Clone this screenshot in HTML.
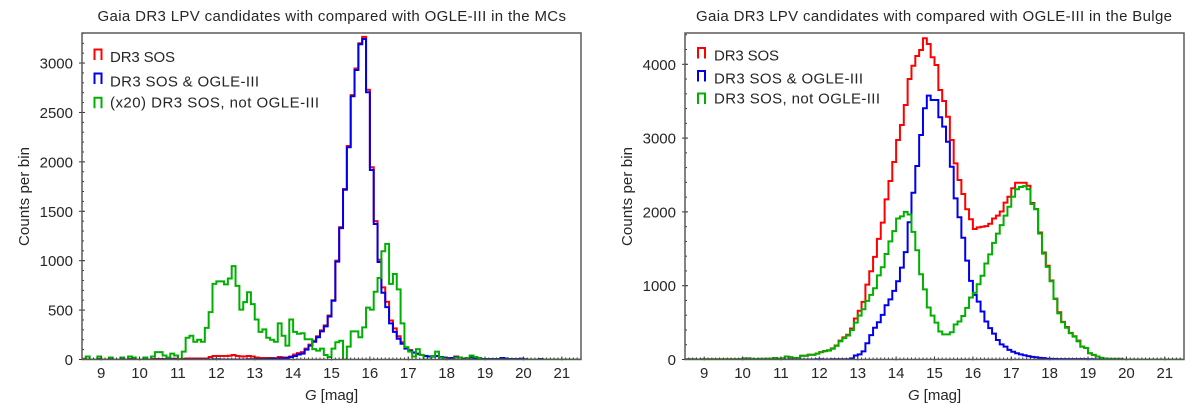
<!DOCTYPE html>
<html lang="en">
<head>
<meta charset="utf-8">
<title>Gaia DR3 LPV candidates compared with OGLE-III</title>
<style>
html,body{margin:0;padding:0;background:#fff;width:1200px;height:409px;overflow:hidden}
svg{display:block}
text{font-family:"Liberation Sans",sans-serif;fill:#262626}
</style>
</head>
<body>
<svg id="figure" width="1200" height="409" viewBox="0 0 1200 409" xmlns="http://www.w3.org/2000/svg"></svg>
<script>
// Histogram bins start at G = 8.5 mag with a width of 0.1 mag; omitted trailing bins are zero.
const binStart = 8.5;
const binWidth = 0.1;
const xTickLabels = [9,10,11,12,13,14,15,16,17,18,19,20,21];

const mcYTicks = [0,500,1000,1500,2000,2500,3000];
const bulgeYTicks = [0,1000,2000,3000,4000];

const mcRed = [8,0,0,0,5,0,0,5,0,0,5,0,5,3,0,0,5,0,5,5,5,5,5,8,8,
  5,8,10,10,10,10,10,10,25,35,
  35,35,35,38,45,35,32,32,35,30,
  20,15,15,15,15,12,25,20,20,30,
  50,65,75,110,150,190,235,295,345,445,
  600,1000,1340,1725,2160,2675,2945,3200,3265,2730,
  1945,1400,1010,730,585,395,315,235,175,120,
  95,72,60,47,37,30,30,35,25,20,
  12,15,30,20,8,15,20,15,10,5,
  5,5,5,5,15,10,5,5,5,8,
  3,0,0,0,5];
const mcBlue = [0,0,0,0,0,0,0,0,0,0,0,0,0,0,0,0,0,0,0,0,0,0,0,3,3,
  0,0,0,0,0,0,0,0,0,3,
  3,0,0,0,0,0,0,0,3,3,
  2,3,3,5,8,10,10,12,15,25,
  35,50,60,100,140,180,225,285,335,435,
  595,990,1330,1718,2148,2664,2930,3190,3243,2704,
  1918,1371,987,676,530,365,280,210,160,110,
  90,70,58,45,35,30,30,35,25,20,
  12,15,25,20,8,15,20,15,10,5,
  5,5,5,5,15,10,5,5,5,8,
  3,0,0,0,5];
const mcGreen = [0,30,0,0,30,0,0,20,0,0,20,0,30,20,0,0,20,0,30,75,75,40,20,60,40,
  0,80,220,240,180,200,180,320,480,765,
  790,790,760,820,945,745,505,580,680,560,
  405,280,305,220,200,180,365,240,140,405,
  280,260,265,205,205,105,90,110,45,25,
  110,175,190,0,130,285,285,225,325,525,
  505,685,825,1095,1170,765,865,710,365,125,
  80,30,105,45,0,0,35,80,20,10,
  0,0,20,20,0,15,40,25,15,0];

const bulgeRed = [3,3,3,0,3,3,3,3,3,3,3,3,3,3,5,
  15,15,8,5,8,8,10,10,20,10,
  15,40,30,20,20,50,50,65,65,80,
  100,115,125,150,190,255,300,335,420,555,
  660,780,1015,1195,1390,1635,1855,2170,2418,2676,
  2974,3177,3449,3800,3981,4112,4194,4352,4275,4095,
  3990,3652,3503,3290,2974,2658,2432,2243,2036,1900,
  1768,1790,1798,1807,1840,1910,1950,2005,2125,2206,
  2320,2395,2395,2395,2355,2120,2040,1720,1450,1270,
  1070,825,640,510,440,360,315,255,175,155,
  85,63,40,22,13,9,9,9,9,0];
const bulgeBlue = [0,0,0,0,0,0,0,0,0,0,0,0,0,0,0,
  0,0,0,0,0,0,0,0,0,0,
  0,0,0,0,0,0,0,0,0,3,
  3,0,0,3,3,3,3,3,15,55,
  70,110,220,330,430,505,605,735,815,930,
  1060,1245,1455,1860,2260,2622,3042,3404,3575,3516,
  3516,3282,3155,2951,2612,2184,1927,1650,1340,1065,
  875,785,650,515,425,350,265,205,175,130,
  105,85,70,58,45,36,31,22,18,10,
  8,6,5,5,5,5,5,5,5,5,
  4,3,2,2,0];
const bulgeGreen = [3,3,3,0,3,3,3,3,3,3,3,3,3,3,5,
  15,15,8,5,8,8,10,10,20,10,
  15,40,30,20,20,50,50,65,65,80,
  100,112,120,145,185,245,290,325,400,500,
  595,680,795,875,965,1140,1250,1430,1600,1740,
  1910,1940,2000,1965,1730,1480,1155,950,705,595,
  500,380,340,340,370,475,515,590,700,840,
  905,1020,1135,1300,1425,1580,1705,1820,1950,2070,
  2206,2306,2337,2350,2306,2107,2035,1705,1435,1255,
  1060,820,625,505,430,355,310,245,175,155,
  85,63,40,22,13,9,9,9,9,0];

const NS = 'http://www.w3.org/2000/svg';
const figure = document.getElementById('figure');
const seriesColors = {red:'#ff0000', blue:'#0000ee', green:'#00b000'};

function svgEl(tag, attrs, parent, txt){
  const el = document.createElementNS(NS, tag);
  for (const k in attrs) el.setAttribute(k, attrs[k]);
  if (txt !== undefined) el.textContent = txt;
  parent.appendChild(el);
  return el;
}

function drawPanel(cfg){
  const g = svgEl('g', {}, figure);
  
  
  const xS = v => cfg.left + (v - 8.5) / 13 * (cfg.right - cfg.left);
  const yS = v => cfg.bottom - v / cfg.yMax * (cfg.bottom - cfg.top);

  const title = svgEl('text', {x:cfg.titleX, y:21, 'font-size':15, textLength:cfg.titleW, lengthAdjust:'spacing'}, g, cfg.title);
  
  

  const clipId = 'clip-' + cfg.id;
  const clip = svgEl('clipPath', {id:clipId}, g);
  svgEl('rect', {x:cfg.left, y:cfg.top, width:cfg.right-cfg.left, height:cfg.bottom-cfg.top}, clip);

  const plot = svgEl('g', {'clip-path':'url(#' + clipId + ')'}, g);
  [['red',cfg.red],['blue',cfg.blue],['green',cfg.green]].forEach(function(s){
    let d = 'M' + xS(binStart).toFixed(2) + ' ' + yS(0).toFixed(2);
    for (let i = 0; i < 130; i++) {
      const v = s[1][i] || 0;
      const x0 = xS(binStart + i * binWidth), x1 = xS(binStart + (i + 1) * binWidth);
      d += 'L' + x0.toFixed(2) + ' ' + yS(v).toFixed(2) + 'L' + x1.toFixed(2) + ' ' + yS(v).toFixed(2);
    }
    const path = svgEl('path', {d:d, fill:'none', stroke:seriesColors[s[0]], 'stroke-width':2, 'stroke-linejoin':'miter'}, plot);
    
    
  });

  const ticks = svgEl('g', {stroke:'#333', 'stroke-width':1, fill:'none'}, g);
  
  
  for (let i = 0; i <= 130; i++) {
    const x = xS(8.5 + i * 0.1);
    svgEl('line', {x1:x, x2:x, y1:cfg.bottom, y2:cfg.bottom - 2}, ticks);
  }
  for (let v = 0; v <= cfg.yMax; v += cfg.yMinor) {
    svgEl('line', {x1:cfg.left, x2:cfg.left + 2, y1:yS(v), y2:yS(v)}, ticks);
  }
  xTickLabels.forEach(function(v){
    svgEl('line', {x1:xS(v), x2:xS(v), y1:cfg.bottom + 1, y2:cfg.bottom - 3}, ticks);
    const t = svgEl('text', {x:xS(v), y:378, 'font-size':15, 'text-anchor':'middle'}, g, String(v));
    
    
  });
  cfg.yTicks.forEach(function(v){
    svgEl('line', {x1:cfg.left - 3, x2:cfg.left + 3, y1:yS(v), y2:yS(v)}, ticks);
    const t = svgEl('text', {x:cfg.left - 9, y:yS(v) + 5.5, 'font-size':15, 'text-anchor':'end'}, g, String(v));
    
    
  });

  const frame = svgEl('rect', {x:cfg.left, y:cfg.top, width:cfg.right-cfg.left, height:cfg.bottom-cfg.top, fill:'none', stroke:'#5a5a5a', 'stroke-width':1.5}, g);
  
  

  const xl = svgEl('text', {x:cfg.xLabelX, y:400, 'font-size':15}, g);
  
  
  svgEl('tspan', {'font-style':'italic'}, xl, 'G');
  svgEl('tspan', {dx:4}, xl, '[mag]');

  const yl = svgEl('text', {transform:'translate(' + cfg.yLabelX + ',246) rotate(-90)', x:0, y:0, 'font-size':15, textLength:99, lengthAdjust:'spacing'}, g, 'Counts per bin');
  
  

  cfg.legend.forEach(function(item){
    const lg = svgEl('g', {}, g);
    
    
    const hx = cfg.legendHandleX, hy = item.handleY;
    svgEl('path', {d:'M' + hx + ' ' + (hy + 10.5) + 'V' + hy + 'H' + (hx + 7) + 'V' + (hy + 10.5), fill:'none', stroke:seriesColors[item.color], 'stroke-width':2}, lg);
    svgEl('text', {x:cfg.legendTextX, y:item.baseline, 'font-size':15, textLength:item.width, lengthAdjust:'spacing'}, lg, item.label);
  });
}

drawPanel({
  id:'mcs', left:82, right:581, top:33, bottom:359.5, yMax:3304, yMinor:100,
  yTicks:mcYTicks, red:mcRed, blue:mcBlue, green:mcGreen,
  title:'Gaia DR3 LPV candidates with compared with OGLE-III in the MCs', titleX:97.5, titleW:468.5,
  xLabelX:305, yLabelX:29, legendHandleX:94.5, legendTextX:110,
  legend:[
    {color:'red', handleY:49.5, baseline:62, width:65, label:'DR3 SOS'},
    {color:'blue', handleY:73.5, baseline:86.5, width:149, label:'DR3 SOS & OGLE-III'},
    {color:'green', handleY:97.7, baseline:107.5, width:209, label:'(x20) DR3 SOS, not OGLE-III'}
  ]
});

drawPanel({
  id:'bulge', left:685, right:1184, top:33, bottom:359.5, yMax:4424, yMinor:200,
  yTicks:bulgeYTicks, red:bulgeRed, blue:bulgeBlue, green:bulgeGreen,
  title:'Gaia DR3 LPV candidates with compared with OGLE-III in the Bulge', titleX:696, titleW:476,
  xLabelX:908, yLabelX:632, legendHandleX:698, legendTextX:714,
  legend:[
    {color:'red', handleY:48, baseline:60.5, width:65, label:'DR3 SOS'},
    {color:'blue', handleY:71, baseline:83.5, width:149, label:'DR3 SOS & OGLE-III'},
    {color:'green', handleY:93.5, baseline:103.5, width:166, label:'DR3 SOS, not OGLE-III'}
  ]
});
</script>
</body>
</html>
